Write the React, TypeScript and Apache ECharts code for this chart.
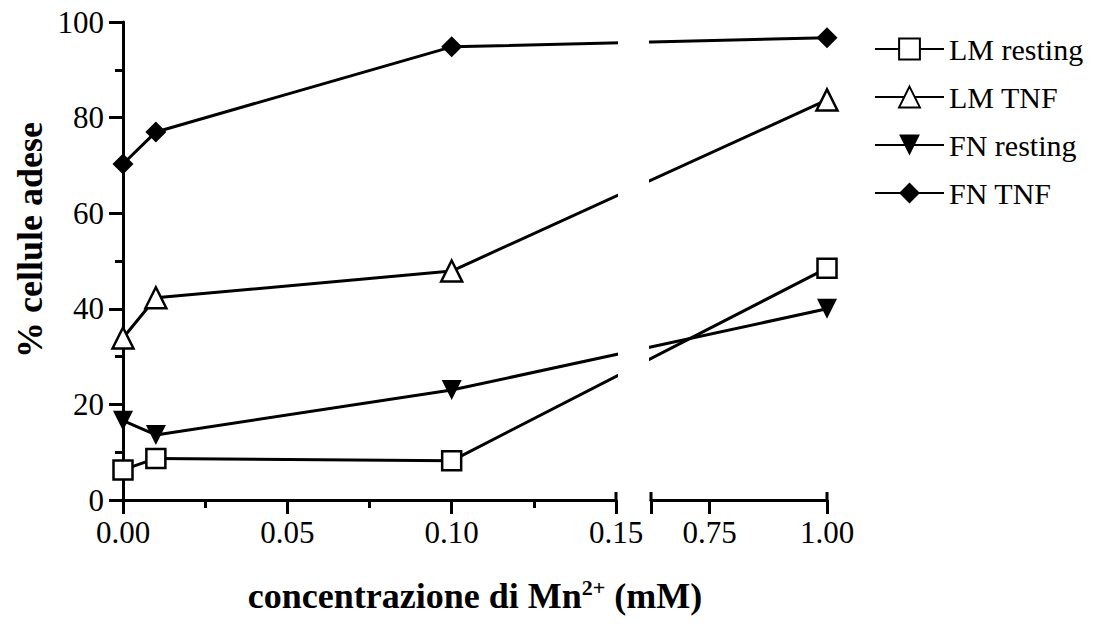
import React, { useEffect, useRef } from "react";
import * as echarts from "echarts";

// ---- data (x in mM, y in % adherent cells) ----
const concentrations = [0, 0.01, 0.1, 1.0];
const lmResting = [6.3, 8.7, 8.2, 48.5];
const lmTNF = [33.9, 42.3, 47.9, 83.7];
const fnResting = [16.6, 13.6, 23.0, 40.0];
const fnTNF = [70.3, 77.0, 94.8, 96.7];
const seriesNames = ["LM resting", "LM TNF", "FN resting", "FN TNF"];
const leftTicks = [0, 0.05, 0.1, 0.15];
const rightTicks = [0.75, 1.0];

// ---- broken-axis layout ----
const LEFT_MAX = 0.15;
const RIGHT_MIN = 0.625;
const RIGHT_MAX = 1.0;
const GRID_LEFT = 123;
const GRID_TOP = 22;
const GRID_H = 478;
const SEG1 = 493;
const GAP = 35;
const SEG2 = 176;
const TOTAL = SEG1 + GAP + SEG2;

// piecewise-linear scale of the broken axis (screen-linear units)
const disp = (x: number) =>
  x <= LEFT_MAX
    ? (x / LEFT_MAX) * SEG1
    : SEG1 + GAP + ((x - RIGHT_MIN) / (RIGHT_MAX - RIGHT_MIN)) * SEG2;

const FONT = "Liberation Serif";

export default function App() {
  const ref = useRef<HTMLDivElement>(null);
  useEffect(() => {
    if (!ref.current) return;
    const chart = echarts.init(ref.current, undefined, { renderer: "svg" });
    const mk = (vals: number[]) => concentrations.map((c, i) => [disp(c), vals[i]]);
    const base = {
      type: "line",
      xAxisIndex: 0,
      yAxisIndex: 0,
      showAllSymbol: true,
      lineStyle: { color: "#000", width: 3 },
    };
    const hollow = { color: "#fff", borderColor: "#000", borderWidth: 2.5 };
    const filled = { color: "#000", borderColor: "#000", borderWidth: 0 };
    const tickStyle = { color: "#000", width: 3 };
    const labelStyle = { fontFamily: FONT, fontSize: 31, color: "#000" };
    chart.setOption({
      animation: false,
      backgroundColor: "#fff",
      grid: [
        { left: GRID_LEFT, top: GRID_TOP, width: TOTAL, height: GRID_H },
        { left: GRID_LEFT, top: GRID_TOP, width: SEG1, height: GRID_H },
        { left: GRID_LEFT + SEG1 + GAP, top: GRID_TOP, width: SEG2, height: GRID_H },
      ],
      xAxis: [
        {
          gridIndex: 0,
          type: "value",
          min: 0,
          max: TOTAL,
          axisLine: { show: false },
          axisTick: { show: false },
          axisLabel: { show: false },
          splitLine: { show: false },
          name: "{a|concentrazione di Mn}{s|2+}{a| (mM)}",
          nameLocation: "middle",
          nameGap: 76,
          nameTextStyle: {
            rich: {
              a: { fontFamily: FONT, fontWeight: "bold", fontSize: 36, color: "#000", lineHeight: 40 },
              s: { fontFamily: FONT, fontWeight: "bold", fontSize: 22, color: "#000", lineHeight: 40, verticalAlign: "top" },
            },
          },
        },
        {
          gridIndex: 1,
          type: "value",
          min: 0,
          max: LEFT_MAX,
          interval: 0.05,
          axisLine: { show: true, lineStyle: tickStyle },
          axisTick: { show: true, length: 14, lineStyle: tickStyle, customValues: leftTicks },
          minorTick: { show: true, splitNumber: 2, length: 8, lineStyle: tickStyle },
          axisLabel: { ...labelStyle, margin: 17, customValues: leftTicks, formatter: (v: number) => v.toFixed(2) },
          splitLine: { show: false },
          minorSplitLine: { show: false },
        },
        {
          gridIndex: 2,
          type: "value",
          min: RIGHT_MIN,
          max: RIGHT_MAX,
          interval: 0.125,
          axisLine: { show: true, lineStyle: tickStyle },
          axisTick: { show: true, length: 14, lineStyle: tickStyle, customValues: [RIGHT_MIN, ...rightTicks] },
          axisLabel: { ...labelStyle, margin: 17, customValues: rightTicks, formatter: (v: number) => v.toFixed(2) },
          splitLine: { show: false },
        },
      ],
      yAxis: [
        {
          gridIndex: 0,
          type: "value",
          min: 0,
          max: 100,
          interval: 20,
          axisLine: { show: true, lineStyle: tickStyle },
          axisTick: { show: true, length: 14, lineStyle: tickStyle },
          minorTick: { show: true, splitNumber: 2, length: 8, lineStyle: tickStyle },
          axisLabel: { ...labelStyle, margin: 19 },
          splitLine: { show: false },
          minorSplitLine: { show: false },
        },
        { gridIndex: 1, type: "value", min: 0, max: 100, show: false },
        { gridIndex: 2, type: "value", min: 0, max: 100, show: false },
      ],
      legend: {
        data: seriesNames,
        orient: "vertical",
        left: 874,
        top: 34,
        padding: 0,
        itemWidth: 69,
        itemHeight: 26,
        itemGap: 18,
        textStyle: { fontFamily: FONT, fontSize: 30, color: "#000" },
      },
      series: [
        { ...base, name: seriesNames[0], data: mk(lmResting), symbol: "rect", symbolSize: 19, itemStyle: hollow },
        { ...base, name: seriesNames[1], data: mk(lmTNF), symbol: "triangle", symbolSize: 21, itemStyle: hollow },
        { ...base, name: seriesNames[2], data: mk(fnResting), symbol: "triangle", symbolRotate: 180, symbolSize: 20, itemStyle: filled },
        { ...base, name: seriesNames[3], data: mk(fnTNF), symbol: "diamond", symbolSize: 21, itemStyle: filled },
      ],
      graphic: [
        {
          type: "rect",
          z: 50,
          shape: { x: GRID_LEFT + SEG1 + 2, y: 10, width: GAP - 4, height: GRID_H + 6 },
          style: { fill: "#fff" },
        },
        ...[GRID_LEFT + SEG1, GRID_LEFT + SEG1 + GAP, GRID_LEFT + TOTAL].map((x) => ({
          type: "line",
          z: 60,
          shape: { x1: x, y1: GRID_TOP + GRID_H - 8, x2: x, y2: GRID_TOP + GRID_H + 1 },
          style: { stroke: "#000", lineWidth: 3 },
        })),
        {
          type: "text",
          z: 60,
          x: 30,
          y: 240,
          rotation: Math.PI / 2,
          style: {
            text: "% cellule adese",
            font: `bold 36px "${FONT}"`,
            fill: "#000",
            textAlign: "center",
            textVerticalAlign: "middle",
          },
        },
      ],
    });
    return () => chart.dispose();
  }, []);
  return (
    <div
      ref={ref}
      style={{ position: "fixed", left: 0, top: 0, width: 1099, height: 626, background: "#fff" }}
    />
  );
}
